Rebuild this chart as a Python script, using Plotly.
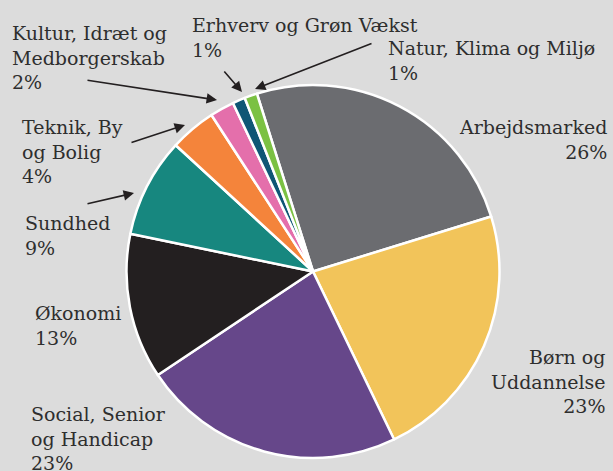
import plotly.graph_objects as go

# Data (clockwise from the top)
categories = ["Arbejdsmarked", "Børn og Uddannelse", "Social, Senior og Handicap",
              "Økonomi", "Sundhed", "Teknik, By og Bolig",
              "Kultur, Idræt og Medborgerskab", "Erhverv og Grøn Vækst",
              "Natur, Klima og Miljø"]
values = [25.1, 22.6, 22.8, 12.6, 8.6, 4.0, 2.1, 1.1, 1.1]
pct_labels = ["26%", "23%", "23%", "13%", "9%", "4%", "2%", "1%", "1%"]
label_lines = [["Arbejdsmarked"], ["Børn og", "Uddannelse"], ["Social, Senior", "og Handicap"],
               ["Økonomi"], ["Sundhed"], ["Teknik, By", "og Bolig"],
               ["Kultur, Idræt og", "Medborgerskab"], ["Erhverv og Grøn Vækst"],
               ["Natur, Klima og Miljø"]]
colors = ["#6b6c70", "#f2c45a", "#66478a", "#231f20", "#17877f", "#f4843b",
          "#e46fab", "#0f5675", "#7bc143"]

W, H = 613, 471
BG = "#dcdcdc"
TXT = "#2e2e2e"
FONT = "DejaVu Serif"

cx, cy, r = 313, 271.5, 186.5

fig = go.Figure(go.Pie(
    labels=categories, values=values, sort=False, direction="clockwise",
    rotation=-17.5, marker=dict(colors=colors, line=dict(color="white", width=2.5)),
    textinfo="none", showlegend=False, hoverinfo="label+percent",
    domain=dict(x=[(cx - r) / W, (cx + r) / W], y=[(H - cy - r) / H, (H - cy + r) / H]),
))

# label placement (pixel positions: anchor x, vertical middle, side)
label_pos = [
    (609, 140, "right"),
    (607, 381, "right"),
    (29, 438, "left"),
    (33, 325, "left"),
    (23, 235, "left"),
    (20, 152, "left"),
    (10, 58, "left"),
    (190, 38, "left"),
    (386, 61, "left"),
]
anns = []
for lines, pct, (px, py, side) in zip(label_lines, pct_labels, label_pos):
    anns.append(dict(
        text="<br>".join(lines + [pct]), x=px / W, y=1 - py / H, xref="paper", yref="paper",
        xanchor=side, yanchor="middle", align=side, showarrow=False,
        font=dict(family=FONT, size=19, color=TXT),
    ))

# arrows: (tail px, tail py, head px, head py)
arrows = [
    (86, 80, 217, 100),
    (223, 70, 242, 92),
    (373, 43, 255, 89),
    (130, 143, 185, 125),
    (86, 204, 134, 193),
]
for tx, ty, hx, hy in arrows:
    anns.append(dict(
        text="", x=hx / W, y=1 - hy / H, xref="paper", yref="paper",
        ax=tx - hx, ay=ty - hy, axref="pixel", ayref="pixel",
        showarrow=True, arrowhead=2, arrowsize=1.3, arrowwidth=1.6,
        arrowcolor="#231f20", standoff=0, startstandoff=0,
    ))

fig.update_layout(
    width=W, height=H, margin=dict(l=0, r=0, t=0, b=0),
    paper_bgcolor=BG, plot_bgcolor=BG, annotations=anns,
    font=dict(family=FONT, color=TXT),
)

fig.write_html(
    "out.html",
    config={"displayModeBar": False},
    post_script="document.body.style.margin='0';document.body.style.overflow='hidden';",
)
